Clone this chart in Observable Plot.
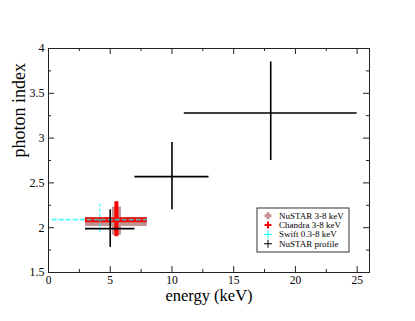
<!DOCTYPE html>
<html>
<head>
<meta charset="utf-8">
<script src="https://cdn.jsdelivr.net/npm/d3@7"></script>
<script src="https://cdn.jsdelivr.net/npm/@observablehq/plot@0.6"></script>
<style>
  body { margin: 0; background: white; }
  #chart { width: 415px; height: 321px; }
  #chart svg text { font-family: "Liberation Serif", "Times New Roman", serif; }
</style>
</head>
<body>
<div id="chart"></div>
<script>
// ---- data ----
// NuSTAR profile (black)
const profX  = [5, 10, 18];
const profX1 = [3, 7, 11];
const profX2 = [7, 13, 25];
const profY  = [1.99, 2.57, 3.28];
const profY1 = [1.78, 2.20, 2.75];
const profY2 = [2.20, 2.95, 3.85];

// NuSTAR 3-8 keV (rosy brown)
const nuX = [5.5], nuX1 = [3], nuX2 = [8];
const nuY = [2.07], nuY1 = [1.915], nuY2 = [2.23];

// Chandra 3-8 keV (red)
const chX = [5.5], chX1 = [3], chX2 = [8];
const chY = [2.09], chY1 = [1.90], chY2 = [2.29];

// Swift 0.3-8 keV (cyan)
const swX = [4.15], swX1 = [0.3], swX2 = [8];
const swY = [2.09], swY1 = [1.95], swY2 = [2.28];

const xMajor = [0, 5, 10, 15, 20, 25];
const xMinor = [2.5, 7.5, 12.5, 17.5, 22.5];
const yMajor = [1.5, 2, 2.5, 3, 3.5, 4];
const yMinor = [1.75, 2.25, 2.75, 3.25, 3.75];

const legendLabels = ["NuSTAR 3-8 keV", "Chandra 3-8 keV", "Swift 0.3-8 keV", "NuSTAR profile"];
const legendColors = ["#c29393", "#ff0000", "#00ffff", "#000000"];

const xLabel = "energy (keV)";
const yLabel = "photon index";

// ---- build tables ----
const mk = (X, X1, X2, Y, Y1, Y2) => X.map((x, i) => ({x, x1: X1[i], x2: X2[i], y: Y[i], y1: Y1[i], y2: Y2[i]}));
const prof = mk(profX, profX1, profX2, profY, profY1, profY2);
const nu = mk(nuX, nuX1, nuX2, nuY, nuY1, nuY2);
const ch = mk(chX, chX1, chX2, chY, chY1, chY2);
const sw = mk(swX, swX1, swX2, swY, swY1, swY2);

const W = 415, H = 321, mL = 48, mR = 46, mT = 48, mB = 49;
const pw = W - mL - mR, ph = H - mT - mB;
const major = 6, minor = 3;
const tickColor = "#222";
const serif = "Liberation Serif, Times New Roman, serif";

const plot = Plot.plot({
  width: W, height: H,
  marginLeft: mL, marginRight: mR, marginTop: mT, marginBottom: mB,
  x: {domain: [0, 26], axis: null},
  y: {domain: [1.5, 4], axis: null},
  style: {fontFamily: serif, background: "white", color: "black"},
  marks: [
    // NuSTAR 3-8 keV
    Plot.ruleY(nu, {y: "y", x1: "x1", x2: "x2", stroke: legendColors[0], strokeWidth: 9}),
    Plot.ruleX(nu, {x: "x", y1: "y1", y2: "y2", stroke: legendColors[0], strokeWidth: 9}),
    // Chandra
    Plot.ruleY(ch, {y: "y", x1: "x1", x2: "x2", stroke: legendColors[1], strokeWidth: 5}),
    Plot.ruleX(ch, {x: "x", y1: "y1", y2: "y2", stroke: legendColors[1], strokeWidth: 4}),
    // Swift
    Plot.ruleY(sw, {y: "y", x1: "x1", x2: "x2", stroke: legendColors[2], strokeWidth: 1.6, strokeDasharray: "5,2", strokeOpacity: 0.7}),
    Plot.ruleX(sw, {x: "x", y1: "y1", y2: "y2", stroke: legendColors[2], strokeWidth: 1.2, strokeDasharray: "3,2", strokeOpacity: 0.8}),
    // NuSTAR profile
    Plot.ruleY(prof, {y: "y", x1: "x1", x2: "x2", stroke: legendColors[3], strokeWidth: 1.6}),
    Plot.ruleX(prof, {x: "x", y1: "y1", y2: "y2", stroke: legendColors[3], strokeWidth: 1.6}),
    // inward ticks
    Plot.tickX(xMajor, {x: d => d, insetTop: ph - major, stroke: tickColor}),
    Plot.tickX(xMinor, {x: d => d, insetTop: ph - minor, stroke: tickColor}),
    Plot.tickX(xMajor, {x: d => d, insetBottom: ph - major, stroke: tickColor}),
    Plot.tickX(xMinor, {x: d => d, insetBottom: ph - minor, stroke: tickColor}),
    Plot.tickY(yMajor, {y: d => d, insetRight: pw - major, stroke: tickColor}),
    Plot.tickY(yMinor, {y: d => d, insetRight: pw - minor, stroke: tickColor}),
    Plot.tickY(yMajor, {y: d => d, insetLeft: pw - major, stroke: tickColor}),
    Plot.tickY(yMinor, {y: d => d, insetLeft: pw - minor, stroke: tickColor}),
    Plot.frame({stroke: tickColor, strokeWidth: 1}),
    // tick labels
    Plot.axisX({ticks: xMajor, tickSize: 0, tickPadding: 3, tickFormat: d => String(d), label: null, fontSize: 11.5, fontFamily: serif}),
    Plot.axisY({ticks: yMajor, tickSize: 0, tickPadding: 4, tickFormat: d => String(d), label: null, fontSize: 12, fontFamily: serif}),
    // axis titles
    Plot.text([xLabel], {text: d => d, frameAnchor: "bottom", lineAnchor: "bottom", dy: 28.5, fontSize: 16.5, fontFamily: serif}),
    Plot.text([yLabel], {text: d => d, frameAnchor: "left", lineAnchor: "bottom", rotate: -90, dx: -24, dy: -3, fontSize: 18, fontFamily: serif})
  ]
});

document.getElementById("chart").appendChild(plot);

// ---- legend (inside plot area, lower right) ----
const svg = d3.select(plot.tagName === "svg" ? plot : plot.querySelector("svg"));
const lg = svg.append("g").attr("transform", "translate(257,208)");
lg.append("rect").attr("width", 92).attr("height", 44).attr("fill", "white").attr("stroke", "#333").attr("stroke-width", 1);
const symSize = [3.5, 3.5, 4, 4];
const symWidth = [3, 2, 1, 1];
legendLabels.forEach((lab, i) => {
  const cy = 7.7 + i * 9.35, cx = 11;
  const g = lg.append("g");
  g.append("line").attr("x1", cx - symSize[i]).attr("x2", cx + symSize[i]).attr("y1", cy).attr("y2", cy)
    .attr("stroke", legendColors[i]).attr("stroke-width", symWidth[i]);
  g.append("line").attr("x1", cx).attr("x2", cx).attr("y1", cy - symSize[i]).attr("y2", cy + symSize[i])
    .attr("stroke", legendColors[i]).attr("stroke-width", symWidth[i]);
  g.append("text").attr("x", 22).attr("y", cy + 3).attr("font-size", 9).attr("text-anchor", "start")
    .attr("font-family", serif).attr("fill", "black").text(lab);
});
</script>
</body>
</html>
